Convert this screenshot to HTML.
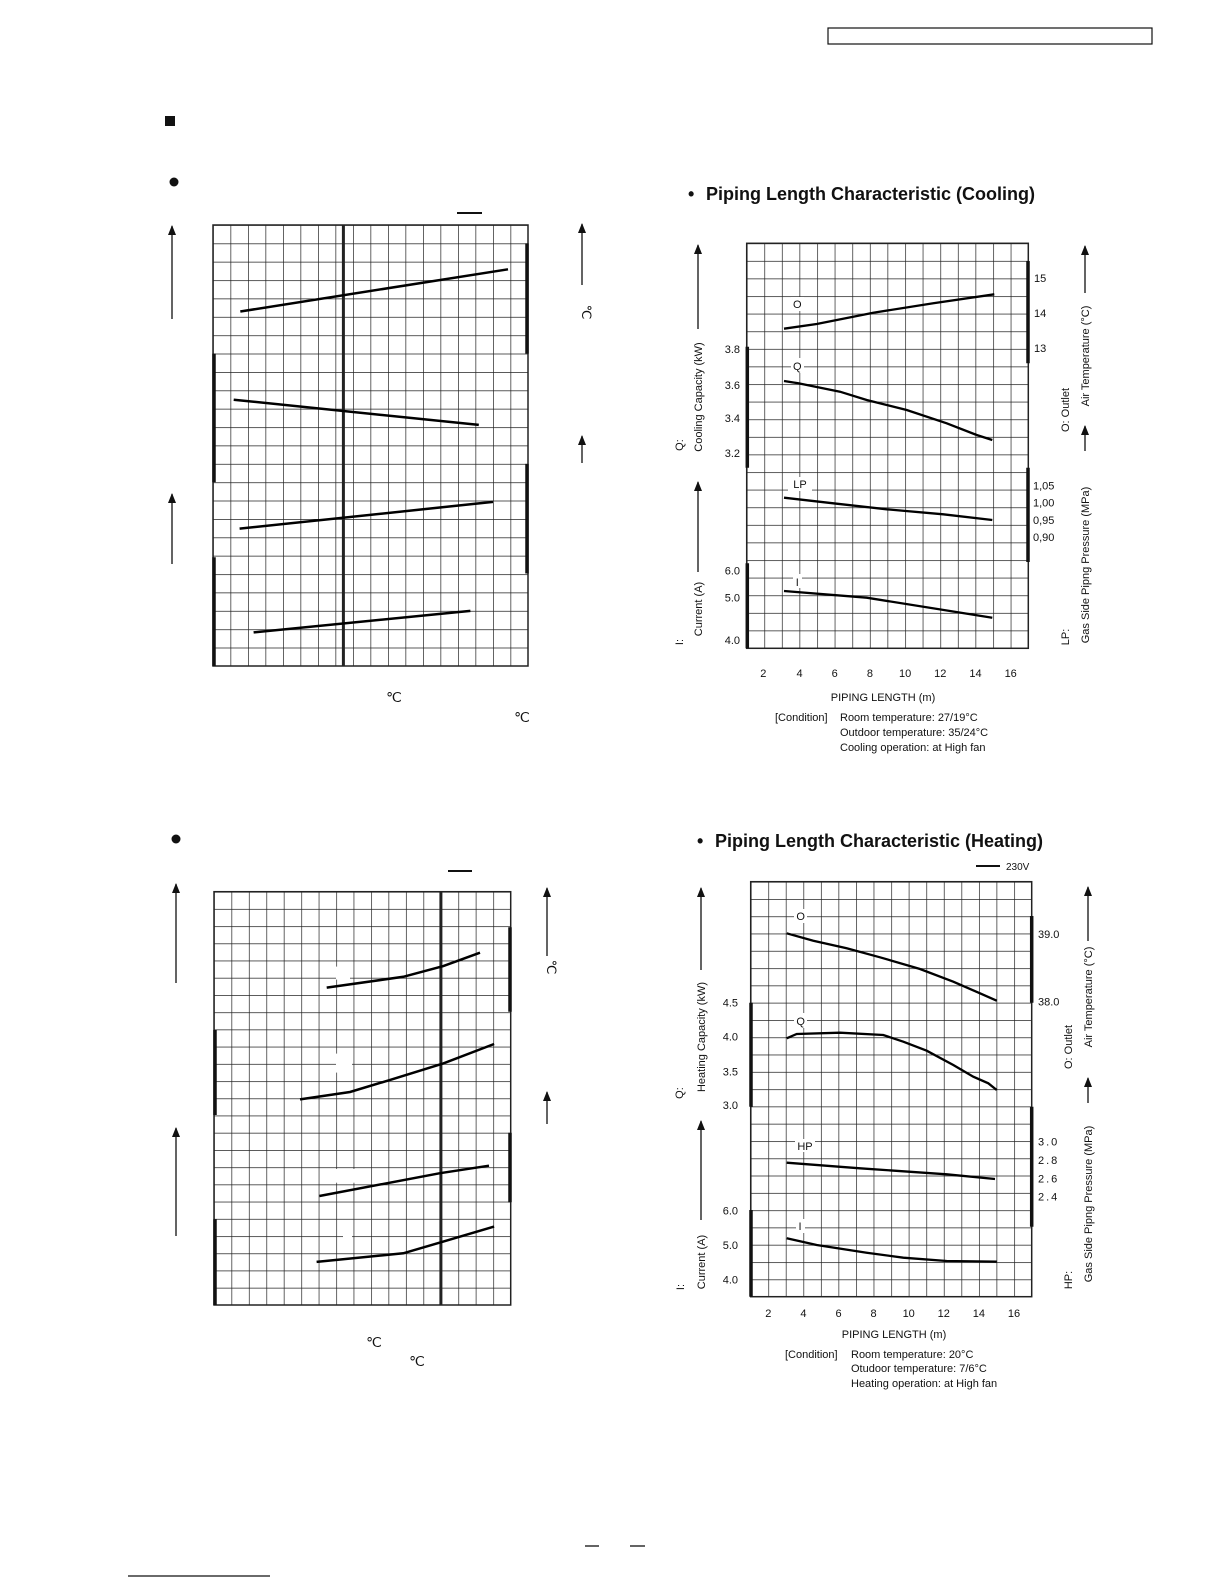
<!DOCTYPE html>
<html><head><meta charset="utf-8">
<style>
html,body{margin:0;padding:0;background:#fff;}
svg{display:block;}
text{font-family:"Liberation Sans",Arial,sans-serif;fill:#111;}
</style></head>
<body>
<svg width="1224" height="1584" viewBox="0 0 1224 1584" xmlns="http://www.w3.org/2000/svg">
<defs>
<pattern id="gTL" patternUnits="userSpaceOnUse" x="213" y="225" width="17.5" height="18.375"><path d="M0 0V18.375M0 0H17.5" stroke="#222" stroke-width="1.4" fill="none"/></pattern>
<pattern id="gBL" patternUnits="userSpaceOnUse" x="214" y="891.7" width="17.45" height="17.22"><path d="M0 0V17.22M0 0H17.45" stroke="#222" stroke-width="1.4" fill="none"/></pattern>
<pattern id="gTR" patternUnits="userSpaceOnUse" x="746.7" y="243.3" width="17.6" height="17.6"><path d="M0 0V17.6M0 0H17.6" stroke="#222" stroke-width="1.4" fill="none"/></pattern>
<pattern id="gBR" patternUnits="userSpaceOnUse" x="750.7" y="881.7" width="17.56" height="17.29"><path d="M0 0V17.29M0 0H17.56" stroke="#222" stroke-width="1.4" fill="none"/></pattern>
<marker id="ar" markerWidth="10" markerHeight="8" refX="9" refY="4" orient="auto" markerUnits="userSpaceOnUse"><path d="M0 0 L10 4 L0 8Z" fill="#111"/></marker>
</defs>

<!-- header -->
<rect x="828" y="28" width="324" height="16" fill="none" stroke="#111" stroke-width="1.2"/>
<rect x="165" y="116" width="10" height="10" fill="#111"/>

<!-- ============ TOP LEFT ============ -->
<circle cx="174" cy="182" r="4.5" fill="#111"/>
<line x1="457" y1="213" x2="482" y2="213" stroke="#111" stroke-width="2"/>
<rect x="213" y="225" width="315" height="441" fill="url(#gTL)" stroke="#222" stroke-width="1.5"/>
<line x1="343.4" y1="225" x2="343.4" y2="666" stroke="#222" stroke-width="3"/>
<g stroke="#111" stroke-width="3.5">
<line x1="527" y1="243.4" x2="527" y2="353.6"/>
<line x1="214" y1="353.6" x2="214" y2="482.3"/>
<line x1="527" y1="463.9" x2="527" y2="573.5"/>
<line x1="214" y1="557.2" x2="214" y2="666"/>
</g>
<g stroke="#000" stroke-width="2.5">
<line x1="240.3" y1="311.5" x2="508" y2="269.3"/>
<line x1="233.7" y1="399.7" x2="478.8" y2="424.9"/>
<line x1="239.6" y1="528.6" x2="493" y2="501.9"/>
<line x1="253.6" y1="632.4" x2="470.4" y2="610.9"/>
</g>
<g stroke="#111" stroke-width="1.3" marker-end="url(#ar)">
<line x1="172" y1="319" x2="172" y2="226"/>
<line x1="172" y1="564" x2="172" y2="494"/>
<line x1="582" y1="285" x2="582" y2="224"/>
<line x1="582" y1="463" x2="582" y2="436"/>
</g>
<text x="582" y="312" font-size="13" transform="rotate(90 582 312)" text-anchor="middle" font-family="Liberation Serif,serif">℃</text>
<text x="394" y="702" font-size="14" text-anchor="middle" font-family="Liberation Serif,serif">℃</text>
<text x="522" y="722" font-size="14" text-anchor="middle" font-family="Liberation Serif,serif">℃</text>

<!-- ============ BOTTOM LEFT ============ -->
<circle cx="176" cy="839" r="4.5" fill="#111"/>
<line x1="448" y1="871" x2="472" y2="871" stroke="#111" stroke-width="2"/>
<rect x="214" y="891.7" width="296.7" height="413.3" fill="url(#gBL)" stroke="#222" stroke-width="1.5"/>
<line x1="440.9" y1="891.7" x2="440.9" y2="1305" stroke="#222" stroke-width="3"/>
<g fill="#fff">
<rect x="336" y="966.6" width="14" height="13"/>
<rect x="336" y="1053.6" width="16" height="19"/>
<rect x="332.7" y="1169" width="26" height="13.7"/>
<rect x="343" y="1232.7" width="9" height="5"/>
</g>
<g stroke="#111" stroke-width="3.5">
<line x1="510" y1="927.3" x2="510" y2="1011.7"/>
<line x1="215" y1="1030" x2="215" y2="1115"/>
<line x1="510" y1="1132.8" x2="510" y2="1202.3"/>
<line x1="215" y1="1219.2" x2="215" y2="1305"/>
</g>
<g stroke="#000" stroke-width="2.5" fill="none">
<polyline points="326.7,987.6 403.3,976.8 443.3,966.1 480,952.7"/>
<polyline points="300,1099.4 350,1092 390.1,1079.9 443.3,1063.4 494.1,1044"/>
<polyline points="319.4,1196 440,1173.2 489,1165.7"/>
<polyline points="316.6,1261.9 403.3,1253.3 443.3,1241.6 494.1,1226.6"/>
</g>
<g stroke="#111" stroke-width="1.3" marker-end="url(#ar)">
<line x1="176" y1="983" x2="176" y2="884"/>
<line x1="176" y1="1236" x2="176" y2="1128"/>
<line x1="547" y1="956" x2="547" y2="888"/>
<line x1="547" y1="1124" x2="547" y2="1092"/>
</g>
<text x="547" y="967" font-size="13" transform="rotate(90 547 967)" text-anchor="middle" font-family="Liberation Serif,serif">℃</text>
<text x="374" y="1347" font-size="14" text-anchor="middle" font-family="Liberation Serif,serif">℃</text>
<text x="417" y="1366" font-size="14" text-anchor="middle" font-family="Liberation Serif,serif">℃</text>

<!-- ============ TOP RIGHT (Cooling) ============ -->
<text x="688" y="200" font-size="18" font-weight="bold">•</text>
<text x="706" y="200" font-size="18" font-weight="bold">Piping Length Characteristic (Cooling)</text>
<rect x="746.7" y="243.3" width="281.6" height="405" fill="url(#gTR)" stroke="#222" stroke-width="1.5"/>
<g stroke="#111" stroke-width="3.5">
<line x1="747.3" y1="346.7" x2="747.3" y2="467.7"/>
<line x1="747.3" y1="563.3" x2="747.3" y2="648.3"/>
<line x1="1028" y1="261" x2="1028" y2="363.3"/>
<line x1="1028" y1="467.7" x2="1028" y2="562"/>
</g>
<g fill="#fff">
<rect x="791" y="297" width="13" height="14"/>
<rect x="791" y="358" width="13" height="15"/>
<rect x="788" y="477" width="24" height="14"/>
<rect x="793" y="574" width="9" height="14"/>
</g>
<g font-size="11" text-anchor="middle">
<text x="797.3" y="308">O</text>
<text x="797.3" y="370">Q</text>
<text x="800" y="488">LP</text>
<text x="797.3" y="586">I</text>
</g>
<g stroke="#000" stroke-width="2.3" fill="none">
<polyline points="784,328.7 816.7,324 873.3,312.7 933.3,303.3 994.3,294.3"/>
<polyline points="784,381 798.3,383.3 840,391.7 866.7,400 906.7,410 946.7,423.3 976.7,435 992.3,440"/>
<polyline points="784,497.7 833.3,503.3 886.7,509.3 943.3,514.3 992.3,520"/>
<polyline points="784,591 866.7,597.7 992.3,617.7"/>
</g>
<g font-size="11" text-anchor="end">
<text x="740" y="353">3.8</text><text x="740" y="389">3.6</text><text x="740" y="422">3.4</text><text x="740" y="457">3.2</text>
<text x="740" y="574.5">6.0</text><text x="740" y="601.5">5.0</text><text x="740" y="644">4.0</text>
</g>
<g font-size="11">
<text x="1034" y="282">15</text><text x="1034" y="317">14</text><text x="1034" y="352">13</text>
<text x="1033" y="489.5">1,05</text><text x="1033" y="506.5">1,00</text><text x="1033" y="524">0,95</text><text x="1033" y="541">0,90</text>
</g>
<g font-size="11" text-anchor="middle">
<text x="763.3" y="677">2</text><text x="799.5" y="677">4</text><text x="834.7" y="677">6</text><text x="869.9" y="677">8</text>
<text x="905.1" y="677">10</text><text x="940.3" y="677">12</text><text x="975.5" y="677">14</text><text x="1010.7" y="677">16</text>
<text x="883" y="701">PIPING LENGTH (m)</text>
</g>
<g font-size="11">
<text x="775" y="721">[Condition]</text>
<text x="840" y="721">Room temperature: 27/19°C</text>
<text x="840" y="736">Outdoor temperature: 35/24°C</text>
<text x="840" y="751">Cooling operation: at High fan</text>
</g>
<g font-size="11" text-anchor="middle">
<text transform="translate(683,445) rotate(-90)">Q:</text>
<text transform="translate(702,397) rotate(-90)">Cooling Capacity (kW)</text>
<text transform="translate(683,642) rotate(-90)">I:</text>
<text transform="translate(702,609) rotate(-90)">Current (A)</text>
<text transform="translate(1069,410) rotate(-90)">O: Outlet</text>
<text transform="translate(1089,356) rotate(-90)">Air Temperature (°C)</text>
<text transform="translate(1069,637) rotate(-90)">LP:</text>
<text transform="translate(1089,565) rotate(-90)">Gas Side Pipng Pressure (MPa)</text>
</g>
<g stroke="#111" stroke-width="1.3" marker-end="url(#ar)">
<line x1="698" y1="329" x2="698" y2="245"/>
<line x1="698" y1="572" x2="698" y2="482"/>
<line x1="1085" y1="293" x2="1085" y2="246"/>
<line x1="1085" y1="451" x2="1085" y2="426"/>
</g>

<!-- ============ BOTTOM RIGHT (Heating) ============ -->
<text x="697" y="847" font-size="18" font-weight="bold">•</text>
<text x="715" y="847" font-size="18" font-weight="bold">Piping Length Characteristic (Heating)</text>
<line x1="976" y1="866" x2="1000" y2="866" stroke="#111" stroke-width="2"/>
<text x="1006" y="870" font-size="10">230V</text>
<rect x="750.7" y="881.7" width="281" height="415" fill="url(#gBR)" stroke="#222" stroke-width="1.5"/>
<g stroke="#111" stroke-width="3.5">
<line x1="751" y1="1002.7" x2="751" y2="1106.7"/>
<line x1="751" y1="1210" x2="751" y2="1296.7"/>
<line x1="1031.7" y1="916" x2="1031.7" y2="1002.7"/>
<line x1="1031.7" y1="1106.7" x2="1031.7" y2="1226.7"/>
</g>
<g fill="#fff">
<rect x="794" y="909" width="13" height="14"/>
<rect x="794" y="1013" width="13" height="15"/>
<rect x="795" y="1139" width="20" height="13"/>
<rect x="796" y="1219" width="9" height="14"/>
</g>
<g font-size="11" text-anchor="middle">
<text x="800.7" y="920">O</text>
<text x="800.7" y="1025">Q</text>
<text x="805" y="1150">HP</text>
<text x="800" y="1230">I</text>
</g>
<g stroke="#000" stroke-width="2.3" fill="none">
<polyline points="786.7,933.3 813.3,940.7 846.7,948.3 880,957.3 920,969 953.3,981.7 980,993.3 996.7,1000.7"/>
<polyline points="786.7,1038.3 796.7,1034 840,1032.7 883.3,1035 903.3,1041.7 926.7,1050.7 953.3,1065 973.3,1076.7 988.3,1083.3 996.7,1090"/>
<polyline points="786.7,1162.7 860,1168.3 946.7,1174.3 995,1179"/>
<polyline points="786.7,1238.3 816.7,1245 866.7,1252.7 903.3,1257.7 946.7,1261 996.7,1261.7"/>
</g>
<g font-size="11" text-anchor="end">
<text x="738" y="1006.7">4.5</text><text x="738" y="1040.7">4.0</text><text x="738" y="1075.7">3.5</text><text x="738" y="1109">3.0</text>
<text x="738" y="1214.7">6.0</text><text x="738" y="1249">5.0</text><text x="738" y="1283.3">4.0</text>
</g>
<g font-size="11">
<text x="1038" y="938">39.0</text><text x="1038" y="1005.7">38.0</text>
<text x="1038" y="1145.7" letter-spacing="2">3.0</text><text x="1038" y="1164" letter-spacing="2">2.8</text>
<text x="1038" y="1182.3" letter-spacing="2">2.6</text><text x="1038" y="1200.7" letter-spacing="2">2.4</text>
</g>
<g font-size="11" text-anchor="middle">
<text x="768.3" y="1317">2</text><text x="803.4" y="1317">4</text><text x="838.5" y="1317">6</text><text x="873.6" y="1317">8</text>
<text x="908.7" y="1317">10</text><text x="943.8" y="1317">12</text><text x="978.9" y="1317">14</text><text x="1014" y="1317">16</text>
<text x="894" y="1338">PIPING LENGTH (m)</text>
</g>
<g font-size="11">
<text x="785" y="1358">[Condition]</text>
<text x="851" y="1358">Room temperature: 20°C</text>
<text x="851" y="1372">Otudoor temperature: 7/6°C</text>
<text x="851" y="1387">Heating operation: at High fan</text>
</g>
<g font-size="11" text-anchor="middle">
<text transform="translate(683,1093) rotate(-90)">Q:</text>
<text transform="translate(705,1037) rotate(-90)">Heating Capacity (kW)</text>
<text transform="translate(684,1287) rotate(-90)">I:</text>
<text transform="translate(705,1262) rotate(-90)">Current (A)</text>
<text transform="translate(1072,1047) rotate(-90)">O: Outlet</text>
<text transform="translate(1092,997) rotate(-90)">Air Temperature (°C)</text>
<text transform="translate(1072,1280) rotate(-90)">HP:</text>
<text transform="translate(1092,1204) rotate(-90)">Gas Side Pipng Pressure (MPa)</text>
</g>
<g stroke="#111" stroke-width="1.3" marker-end="url(#ar)">
<line x1="701" y1="970" x2="701" y2="888"/>
<line x1="701" y1="1220" x2="701" y2="1121"/>
<line x1="1088" y1="941" x2="1088" y2="887"/>
<line x1="1088" y1="1103" x2="1088" y2="1078"/>
</g>

<!-- footer -->
<line x1="585" y1="1546" x2="599" y2="1546" stroke="#111" stroke-width="1.3"/>
<line x1="630" y1="1546" x2="645" y2="1546" stroke="#111" stroke-width="1.3"/>
<line x1="128" y1="1576" x2="270" y2="1576" stroke="#111" stroke-width="1.3"/>
</svg>
</body></html>
